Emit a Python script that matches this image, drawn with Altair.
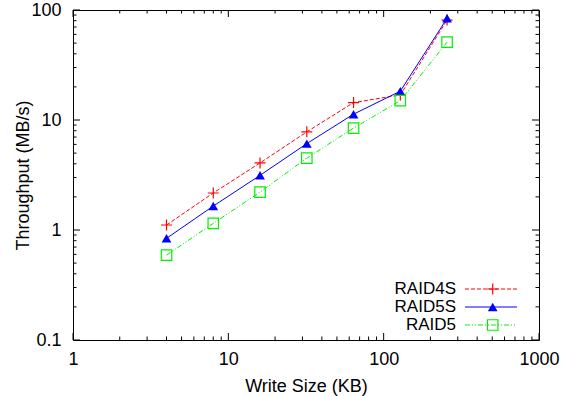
import altair as alt
import pandas as pd

# ---- data ----
sizes = [4, 8, 16, 32, 64, 128, 256]
raid4s = [1.11, 2.17, 4.07, 7.8, 14.4, 16.9, 81]
raid5s = [0.84, 1.65, 3.14, 6.1, 11.3, 18.3, 84]
raid5 = [0.59, 1.15, 2.21, 4.5, 8.45, 15.0, 51]

series_names = ["RAID4S", "RAID5S", "RAID5"]
series_values = [raid4s, raid5s, raid5]

x_major = [1, 10, 100, 1000]
x_minor = [2, 3, 4, 5, 6, 7, 8, 9, 20, 30, 40, 50, 60, 70, 80, 90,
           200, 300, 400, 500, 600, 700, 800, 900]
y_major = [0.1, 1, 10, 100]
y_minor = [0.2, 0.3, 0.4, 0.5, 0.6, 0.7, 0.8, 0.9, 2, 3, 4, 5, 6, 7, 8, 9,
           20, 30, 40, 50, 60, 70, 80, 90]

# ---- styling ----
W, H = 466, 330
FONT = "Liberation Sans"
colors = ["#ff0000", "#0000ff", "#00ee00"]
dashes = [[4, 2], None, [5, 2, 1, 2, 1, 2]]
plus_path = "M-1,0L1,0M0,-1L0,1"
shapes = [plus_path, "triangle-up", "square"]
filleds = [False, True, False]
msizes = [121, 95, 110]

xs = alt.Scale(type="log", domain=[1, 1000], nice=False)
ys = alt.Scale(type="log", domain=[0.1, 100], nice=False)

x_axis = alt.Axis(
    title="Write Size (KB)", values=x_major, format="~g", ticks=False,
    domain=False, grid=False, labelFont=FONT, labelFontSize=18,
    labelPadding=10, labelFlush=False, labelOverlap=False, labelColor="black",
    titleFont=FONT, titleFontSize=18, titleFontWeight="normal",
    titleColor="black", titleBaseline="alphabetic", titleY=51,
)
y_axis = alt.Axis(
    title="Throughput (MB/s)", values=y_major, format="~g", ticks=False,
    domain=False, grid=False, labelFont=FONT, labelFontSize=18,
    labelPadding=12, labelFlush=False, labelOverlap=False, labelColor="black",
    titleFont=FONT, titleFontSize=18, titleFontWeight="normal",
    titleColor="black", titleBaseline="alphabetic", titleX=-45,
)

X = alt.X("size:Q", scale=xs, axis=x_axis)
Y = alt.Y("thr:Q", scale=ys, axis=y_axis)

layers = []

# tick marks (inside, mirrored on all sides)
def xticks(vals, length, top):
    df = pd.DataFrame({"size": vals})
    y0 = 0 if top else H
    y1 = length if top else H - length
    return alt.Chart(df).mark_rule(color="black", strokeWidth=1).encode(
        x=X, y=alt.value(y0), y2=alt.value(y1))

def yticks(vals, length, right):
    df = pd.DataFrame({"thr": vals})
    x0 = W if right else 0
    x1 = W - length if right else length
    return alt.Chart(df).mark_rule(color="black", strokeWidth=1).encode(
        y=Y, x=alt.value(x0), x2=alt.value(x1))

for top in (False, True):
    layers.append(xticks(x_major, 7, top))
    layers.append(xticks(x_minor, 3.5, top))
for right in (False, True):
    layers.append(yticks(y_major, 7, right))
    layers.append(yticks(y_minor, 3.5, right))

# data series
for name, vals, col, dash, shape, filled, ms in zip(
        series_names, series_values, colors, dashes, shapes, filleds, msizes):
    df = pd.DataFrame({"size": sizes, "thr": vals, "series": name})
    lk = dict(color=col, strokeWidth=1)
    if dash:
        lk["strokeDash"] = dash
    layers.append(alt.Chart(df).mark_line(**lk).encode(x=X, y=Y))
    layers.append(alt.Chart(df).mark_point(
        shape=shape, filled=filled, size=ms, color=col, strokeWidth=1.2,
        opacity=1).encode(x=X, y=Y))

# legend (inside, lower right)
legend_rows = [279, 297, 315]
for name, col, dash, shape, filled, ms, ry in zip(
        series_names, colors, dashes, shapes, filleds, msizes, legend_rows):
    ldf = pd.DataFrame({"series": [name]})
    layers.append(alt.Chart(ldf).mark_text(
        align="right", baseline="middle", font=FONT, fontSize=17,
        color="black").encode(text="series:N", x=alt.value(383),
                              y=alt.value(ry)))
    rk = dict(color=col, strokeWidth=1)
    if dash:
        rk["strokeDash"] = dash
    layers.append(alt.Chart(ldf).mark_rule(**rk).encode(
        x=alt.value(392), x2=alt.value(444), y=alt.value(ry)))
    layers.append(alt.Chart(ldf).mark_point(
        shape=shape, filled=filled, size=ms, color=col, strokeWidth=1.2,
        opacity=1).encode(x=alt.value(419.7), y=alt.value(ry)))

chart = alt.layer(*layers).properties(
    width=W, height=H,
    autosize=alt.AutoSizeParams(type="none"),
    padding={"left": 73, "top": 10, "right": 37, "bottom": 56},
    background="white",
).configure_view(stroke="black", strokeWidth=1)

chart.save("out.html", embed_options={"renderer": "svg", "actions": False})
